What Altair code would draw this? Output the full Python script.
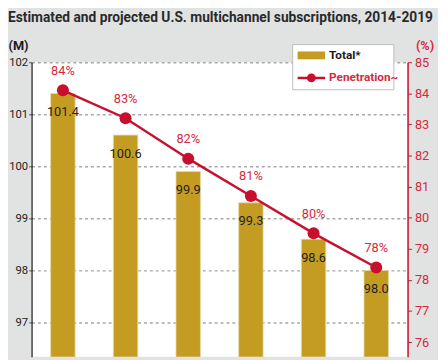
import altair as alt
import pandas as pd

# ---- data ----
years = ["2014", "2015", "2016", "2017", "2018", "2019"]
totals = [101.4, 100.6, 99.9, 99.3, 98.6, 98.0]
total_labels = ["101.4", "100.6", "99.9", "99.3", "98.6", "98.0"]
penetration = [84.1, 83.2, 81.9, 80.7, 79.5, 78.4]
pen_labels = ["84%", "83%", "82%", "81%", "80%", "78%"]
left_ticks = [97, 98, 99, 100, 101, 102]
right_ticks = [76, 77, 78, 79, 80, 81, 82, 83, 84, 85]
legend_labels = ["Total*", "Penetration~"]
title_text = "Estimated and projected U.S. multichannel subscriptions, 2014-2019"
left_unit = "(M)"
right_unit = "(%)"

FONT = "Roboto, sans-serif"
RED = "#c8102e"
RED_TXT = "#d42a40"
GOLD = "#c49c22"
BG = "#e1e3e3"

df = pd.DataFrame({
    "year": years,
    "total": totals,
    "total_label": total_labels,
    "pen": penetration,
    "pen_label": pen_labels,
})

x = alt.X("year:N", scale=alt.Scale(paddingInner=0.61, paddingOuter=0.305), axis=None)

left_scale = alt.Scale(domain=[96.34, 102], nice=False, zero=False)
left_axis = alt.Axis(
    values=left_ticks, format="d", title=left_unit, titleAngle=0,
    titleX=-24, titleY=-17, titleAlign="left", titleBaseline="middle",
    titleFont=FONT, titleFontSize=13, titleFontWeight="bold", titleColor="#1a1a1a",
    labelFont=FONT, labelFontSize=11.5, labelColor="#222222", labelPadding=1,
    labelFlush=False, labelOverlap=False,
    tickSize=3, tickColor="#555555", domainColor="#111111", domainWidth=1.2,
    grid=True, gridColor="#a8a8a8", gridDash=[3, 3], gridWidth=1.5,
)
y_left = alt.Y("total:Q", scale=left_scale, axis=left_axis)

bars = alt.Chart(df).mark_bar(color=GOLD, clip=True, stroke="#e6d9a8", strokeWidth=0.8).encode(x=x, y=y_left)
bar_text = alt.Chart(df).mark_text(
    dy=19, baseline="middle", font=FONT, fontSize=13, color="#222222"
).encode(x=x, y=y_left, text="total_label:N")
left = alt.layer(bars, bar_text)

right_scale = alt.Scale(domain=[75.53, 85], nice=False, zero=False)
right_axis = alt.Axis(
    orient="right", values=right_ticks, format="d", title=right_unit, titleAngle=0,
    titleX=8, titleY=-17, titleAlign="left", titleBaseline="middle",
    titleFont=FONT, titleFontSize=13, titleFontWeight="bold", titleColor=RED_TXT,
    labelFont=FONT, labelFontSize=13, labelColor=RED_TXT, labelPadding=3,
    labelFlush=False, labelOverlap=False,
    tickSize=4, tickColor=RED, domainColor=RED, domainWidth=1.5, grid=False,
)
y_right = alt.Y("pen:Q", scale=right_scale, axis=right_axis)

line = alt.Chart(df).mark_line(color=RED, strokeWidth=2.5).encode(x=x, y=y_right)
points = alt.Chart(df).mark_point(filled=True, size=150, color=RED, opacity=1).encode(x=x, y=y_right)
pen_text = alt.Chart(df).mark_text(
    dy=-20, baseline="middle", font=FONT, fontSize=13, color=RED_TXT
).encode(x=x, y=y_right, text="pen_label:N")
right = alt.layer(line, points, pen_text)

one = pd.DataFrame({"k": [0]})

title = alt.Chart(one).mark_text(
    align="left", baseline="middle", font=FONT, fontSize=14, fontWeight="bold", color="#2a2a2a"
).encode(x=alt.value(-24), y=alt.value(-45), text=alt.value(title_text))

legend_box = alt.Chart(one).mark_rect(fill="white", stroke="#bdbdbd", strokeWidth=1).encode(
    x=alt.value(266), x2=alt.value(369), y=alt.value(-18), y2=alt.value(28))
legend_swatch = alt.Chart(one).mark_rect(fill=GOLD).encode(
    x=alt.value(271), x2=alt.value(299), y=alt.value(-11), y2=alt.value(-3))
legend_t1 = alt.Chart(one).mark_text(
    align="left", baseline="middle", font=FONT, fontSize=12, fontWeight="bold", color="#1a1a1a"
).encode(x=alt.value(303), y=alt.value(-7), text=alt.value(legend_labels[0]))
legend_line = alt.Chart(one).mark_rule(color=RED, strokeWidth=2.5).encode(
    x=alt.value(271), x2=alt.value(299), y=alt.value(16))
legend_dot = alt.Chart(one).mark_point(filled=True, size=80, color=RED, opacity=1).encode(
    x=alt.value(285), y=alt.value(16))
legend_t2 = alt.Chart(one).mark_text(
    align="left", baseline="middle", font=FONT, fontSize=12, fontWeight="bold", color=RED_TXT
).encode(x=alt.value(303), y=alt.value(15), text=alt.value(legend_labels[1]))

chart = alt.layer(
    left, right, title, legend_box, legend_swatch, legend_t1, legend_line, legend_dot, legend_t2
).resolve_scale(y="independent").properties(
    width=383, height=300,
    autosize=alt.AutoSizeParams(type="none"),
    padding={"left": 24, "top": 52, "right": 31, "bottom": 0},
    background=BG,
).configure_view(fill="white", stroke=None)

chart.save("out.html", embed_options={"renderer": "svg", "actions": False})
